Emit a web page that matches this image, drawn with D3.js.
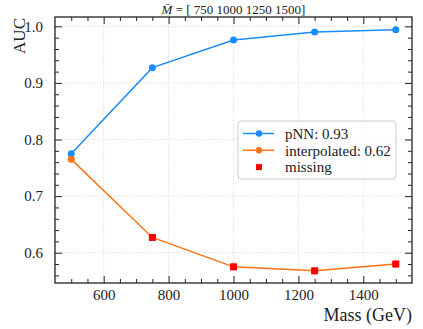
<!DOCTYPE html>
<html>
<head>
<meta charset="utf-8">
<script src="https://cdn.jsdelivr.net/npm/d3@7"></script>
<style>
  body { margin: 0; background: #fff; }
  svg { display: block; }
  svg text { font-family: "Liberation Serif", "DejaVu Serif", serif; }
</style>
</head>
<body>
<script>
// Data
const masses = [500, 750, 1000, 1250, 1500];
const pnnAuc = [0.775, 0.927, 0.976, 0.990, 0.994];
const interpAuc = [0.765, 0.627, 0.575, 0.568, 0.580];
const missingMasses = [750, 1000, 1250, 1500];
const xTicks = [600, 800, 1000, 1200, 1400];
const yTicks = [0.6, 0.7, 0.8, 0.9, 1.0];
const legendLabels = ["pNN: 0.93", "interpolated: 0.62", "missing"];
const trainMasses = "[ 750 1000 1250 1500]";

const width = 423, height = 329;
const margin = { top: 17, right: 11, bottom: 46, left: 55 };

const blue = "#1a8cff", orange = "#ff7315", red = "#ff0000";
const ink = "#222";

const x = d3.scaleLinear().domain([450, 1550]).range([margin.left, width - margin.right]);
const y = d3.scaleLinear().domain([0.5465, 1.0165]).range([height - margin.bottom, margin.top]);

const svg = d3.select("body").append("svg")
    .attr("width", width)
    .attr("height", height);

const plotB = y.range()[0], plotT = y.range()[1];
const plotL = x.range()[0], plotR = x.range()[1];

// grid
svg.append("g")
    .selectAll("line")
    .data(xTicks)
    .join("line")
    .attr("x1", d => x(d)).attr("x2", d => x(d))
    .attr("y1", plotB).attr("y2", plotT)
    .attr("stroke", "#d9d9d9").attr("stroke-width", 0.8).attr("stroke-dasharray", "1.5,1.5");
svg.append("g")
    .selectAll("line")
    .data(yTicks)
    .join("line")
    .attr("y1", d => y(d)).attr("y2", d => y(d))
    .attr("x1", plotL).attr("x2", plotR)
    .attr("stroke", "#d9d9d9").attr("stroke-width", 0.8).attr("stroke-dasharray", "1.5,1.5");

// axes, ticks pointing inwards on all four sides
const xMinor = d3.range(500, 1501, 50).filter(v => v % 200 !== 0);
const yMinor = d3.range(0.56, 1.01, 0.02).filter(v => Math.abs(v * 10 - Math.round(v * 10)) > 1e-6);

function styleAxis(g) {
    g.attr("font-family", null).attr("font-size", null);
    g.select(".domain").remove();
    g.selectAll(".tick line").attr("stroke", ink).attr("stroke-width", 1);
    g.selectAll("text").attr("fill", ink).style("font-size", "15px");
}

svg.append("g").attr("transform", `translate(0,${plotB})`)
    .call(d3.axisBottom(x).tickValues(xTicks).tickSize(-7).tickPadding(6).tickFormat(d3.format("d")))
    .call(styleAxis);
svg.append("g").attr("transform", `translate(0,${plotB})`)
    .call(d3.axisBottom(x).tickValues(xMinor).tickSize(-4).tickFormat(""))
    .call(styleAxis);
svg.append("g").attr("transform", `translate(0,${plotT})`)
    .call(d3.axisTop(x).tickValues(xTicks).tickSize(-7).tickFormat(""))
    .call(styleAxis);
svg.append("g").attr("transform", `translate(0,${plotT})`)
    .call(d3.axisTop(x).tickValues(xMinor).tickSize(-4).tickFormat(""))
    .call(styleAxis);

svg.append("g").attr("transform", `translate(${plotL},0)`)
    .call(d3.axisLeft(y).tickValues(yTicks).tickSize(-7).tickPadding(12).tickFormat(d3.format(".1f")))
    .call(styleAxis);
svg.append("g").attr("transform", `translate(${plotL},0)`)
    .call(d3.axisLeft(y).tickValues(yMinor).tickSize(-4).tickFormat(""))
    .call(styleAxis);
svg.append("g").attr("transform", `translate(${plotR},0)`)
    .call(d3.axisRight(y).tickValues(yTicks).tickSize(-7).tickFormat(""))
    .call(styleAxis);
svg.append("g").attr("transform", `translate(${plotR},0)`)
    .call(d3.axisRight(y).tickValues(yMinor).tickSize(-4).tickFormat(""))
    .call(styleAxis);

// frame
svg.append("rect")
    .attr("x", plotL).attr("y", plotT)
    .attr("width", plotR - plotL).attr("height", plotB - plotT)
    .attr("fill", "none").attr("stroke", ink).attr("stroke-width", 1.3);

// lines
const line = d3.line().x(d => x(d[0])).y(d => y(d[1]));
const pnn = masses.map((m, i) => [m, pnnAuc[i]]);
const interp = masses.map((m, i) => [m, interpAuc[i]]);

svg.append("path").datum(pnn).attr("d", line)
    .attr("fill", "none").attr("stroke", blue).attr("stroke-width", 1.5);
svg.append("g").selectAll("circle").data(pnn).join("circle")
    .attr("cx", d => x(d[0])).attr("cy", d => y(d[1])).attr("r", 3.5).attr("fill", blue);

svg.append("path").datum(interp).attr("d", line)
    .attr("fill", "none").attr("stroke", orange).attr("stroke-width", 1.5);
svg.append("g").selectAll("circle").data(interp).join("circle")
    .attr("cx", d => x(d[0])).attr("cy", d => y(d[1])).attr("r", 3.5).attr("fill", orange);

const missing = interp.filter(d => missingMasses.includes(d[0]));
svg.append("g").selectAll("rect").data(missing).join("rect")
    .attr("x", d => x(d[0]) - 3.5).attr("y", d => y(d[1]) - 3.5)
    .attr("width", 7).attr("height", 7).attr("fill", red);

// legend
const leg = svg.append("g").attr("transform", "translate(238,121)");
leg.append("rect").attr("width", 158).attr("height", 58).attr("rx", 3)
    .attr("fill", "#fff").attr("fill-opacity", 0.8)
    .attr("stroke", "#cccccc").attr("stroke-width", 1);
const rows = [{ c: blue, t: "line" }, { c: orange, t: "line" }, { c: red, t: "square" }];
rows.forEach((r, i) => {
    const cy = 12.5 + i * 16.8;
    if (r.t === "line") {
        leg.append("line").attr("x1", 5).attr("x2", 36).attr("y1", cy).attr("y2", cy)
            .attr("stroke", r.c).attr("stroke-width", 1.5);
        leg.append("circle").attr("cx", 21).attr("cy", cy).attr("r", 3.2).attr("fill", r.c);
    } else {
        leg.append("rect").attr("x", 18).attr("y", cy - 3).attr("width", 6).attr("height", 6).attr("fill", r.c);
    }
    leg.append("text").attr("x", 47).attr("y", cy).attr("dy", "0.35em")
        .style("font-size", "15px").attr("fill", ink).text(legendLabels[i]);
});

// axis labels
svg.append("text")
    .attr("transform", `translate(19,${plotT + 1}) rotate(-90)`)
    .attr("text-anchor", "end").attr("dy", "0.35em")
    .style("font-size", "17px").attr("fill", ink).text("AUC");

svg.append("text")
    .attr("x", plotR).attr("y", 321)
    .attr("text-anchor", "end")
    .style("font-size", "18px").attr("fill", ink).text("Mass (GeV)");

// title
const title = svg.append("text")
    .attr("x", (plotL + plotR) / 2).attr("y", 14)
    .attr("text-anchor", "middle")
    .style("font-size", "13px").attr("fill", ink);
title.append("tspan").style("font-style", "italic").text("M\u0304");
title.append("tspan").text(" = " + trainMasses);
</script>
</body>
</html>
